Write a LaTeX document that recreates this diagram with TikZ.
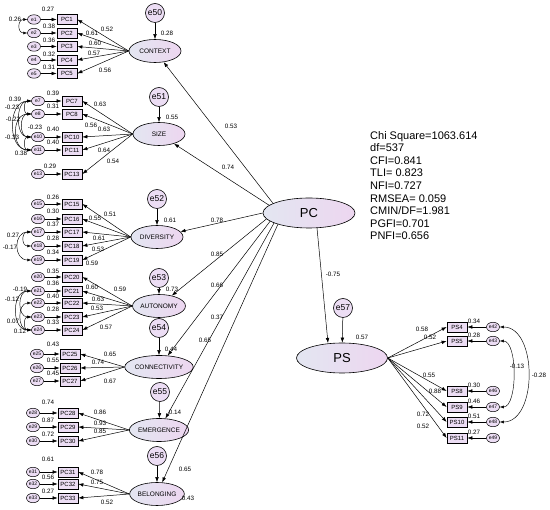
\documentclass[tikz,border=0pt]{standalone}
\usepackage{fontspec}
\setmainfont{Liberation Sans}
\usetikzlibrary{arrows.meta,shapes.geometric}
\definecolor{latL}{HTML}{E3E6F1}
\definecolor{latR}{HTML}{EDD6F0}
\definecolor{boxC}{HTML}{ECDDF4}
\definecolor{errC}{HTML}{ECDDF4}
\tikzset{
 lat/.style={ellipse, draw, line width=0.6pt, left color=latL, right color=latR, minimum width=52pt, minimum height=23pt, inner sep=0pt, font=\fontsize{6.5}{7}\selectfont},
 big/.style={lat, minimum width=92pt, minimum height=30pt, font=\fontsize{13}{14}\selectfont},
 obs/.style={rectangle, draw, line width=0.7pt, fill=boxC, minimum width=20pt, minimum height=10pt, inner sep=0pt, font=\fontsize{6}{6}\selectfont},
 err/.style={ellipse, draw, line width=0.5pt, fill=errC, minimum width=13pt, minimum height=9.5pt, inner sep=0pt, font=\fontsize{5}{5}\selectfont},
 errb/.style={circle, draw, line width=0.6pt, fill=errC, minimum size=19pt, inner sep=0pt, font=\fontsize{8.5}{9}\selectfont},
 lbl/.style={inner sep=0pt, font=\fontsize{6.3}{7}\selectfont},
 arr/.style={-{Latex[length=5pt,width=3.6pt]}, line width=0.5pt},
 cov/.style={{Latex[length=4pt,width=3pt]}-{Latex[length=4pt,width=3pt]}, line width=0.45pt},
}
\begin{document}
\begin{tikzpicture}[x=1pt,y=-1pt]
\useasboundingbox (0,0) rectangle (550,510);
\fill[white] (0,0) rectangle (550,510);
% latent variables
\node[big] (PC) at (309,213) {PC};
\node[big, minimum width=91pt, minimum height=30pt] (PS) at (342,358) {PS};
\node[lat] (CONTEXT) at (155,51) {CONTEXT};
\node[lat] (SIZE) at (159,134) {SIZE};
\node[lat] (DIVERSITY) at (157,237) {DIVERSITY};
\node[lat] (AUTONOMY) at (159,306) {AUTONOMY};
\node[lat] (CONNECTIVITY) at (159,367) {CONNECTIVITY};
\node[lat] (EMERGENCE) at (159,430) {EMERGENCE};
\node[lat] (BELONGING) at (157,494) {BELONGING};
% disturbances
\node[errb] (e50) at (155,13) {e50};
\node[errb] (e51) at (159,97) {e51};
\node[errb] (e52) at (157,199) {e52};
\node[errb] (e53) at (159,278) {e53};
\node[errb] (e54) at (159,328) {e54};
\node[errb] (e55) at (160,392) {e55};
\node[errb] (e56) at (157,456) {e56};
\node[errb] (e57) at (343,308) {e57};
\foreach \a/\b in {e50/CONTEXT,e51/SIZE,e52/DIVERSITY,e53/AUTONOMY,e54/CONNECTIVITY,e55/EMERGENCE,e56/BELONGING,e57/PS}
  \draw[arr] (\a) -- (\b);
% structural paths
\foreach \ang/\b in {165/CONTEXT,169.5/SIZE,180/DIVERSITY,188/AUTONOMY,192/CONNECTIVITY,196/EMERGENCE,200/BELONGING}
  \draw[arr] (PC.\ang) -- (\b);
\coordinate (pcs) at (317,228);
\coordinate (pst) at (328,343);
\draw[arr] (pcs) -- (pst);
% indicators
\foreach \n/\y in {1/19.5,2/33,3/46.5,4/60,5/73.5}{
  \node[obs] (PC\n) at (67,\y) {PC\n};
  \node[err] (e\n) at (34,\y) {e\n};
  \draw[arr] (e\n.east) -- (PC\n.west);
  \draw[arr] (CONTEXT.west) -- (PC\n.east);}
\foreach \n/\y in {7/101,8/114,10/137,11/150,13/174}{
  \node[obs] (PC\n) at (72,\y) {PC\n};
  \node[err] (e\n) at (38,\y) {e\n};
  \draw[arr] (e\n.east) -- (PC\n.west);
  \draw[arr] (SIZE.west) -- (PC\n.east);}
\foreach \n/\y in {15/204,16/219,17/232,18/246,19/260}{
  \node[obs] (PC\n) at (72,\y) {PC\n};
  \node[err] (e\n) at (38,\y) {e\n};
  \draw[arr] (e\n.east) -- (PC\n.west);
  \draw[arr] (DIVERSITY.west) -- (PC\n.east);}
\foreach \n/\y in {20/277,21/291,22/303,23/317,24/330}{
  \node[obs] (PC\n) at (72,\y) {PC\n};
  \node[err] (e\n) at (38,\y) {e\n};
  \draw[arr] (e\n.east) -- (PC\n.west);
  \draw[arr] (AUTONOMY.west) -- (PC\n.east);}
\foreach \n/\y in {25/354,26/368,27/381}{
  \node[obs] (PC\n) at (70,\y) {PC\n};
  \node[err] (e\n) at (37,\y) {e\n};
  \draw[arr] (e\n.east) -- (PC\n.west);
  \draw[arr] (CONNECTIVITY.west) -- (PC\n.east);}
\foreach \n/\y in {28/413,29/427,30/441}{
  \node[obs] (PC\n) at (68,\y) {PC\n};
  \node[err] (e\n) at (33,\y) {e\n};
  \draw[arr] (e\n.east) -- (PC\n.west);
  \draw[arr] (EMERGENCE.west) -- (PC\n.east);}
\foreach \n/\y in {31/472,32/484,33/498}{
  \node[obs] (PC\n) at (68,\y) {PC\n};
  \node[err] (e\n) at (33,\y) {e\n};
  \draw[arr] (e\n.east) -- (PC\n.west);
  \draw[arr] (BELONGING.west) -- (PC\n.east);}
\foreach \n/\e/\y in {4/42/327,5/43/341,8/46/391,9/47/407,10/48/422,11/49/438}{
  \node[obs] (PS\n) at (457,\y) {PS\n};
  \node[err] (e\e) at (493,\y) {e\e};
  \draw[arr] (e\e.west) -- (PS\n.east);
  \draw[arr] (PS.east) -- (PS\n.west);}
% covariances
\draw[cov] (e1.west) .. controls +(-10,0) and +(-10,0) .. (e2.west);
\draw[cov] (e7.west) .. controls +(-8,0) and +(-8,0) .. (e8.west);
\draw[cov] (e7.west) .. controls +(-16,0) and +(-16,0) .. (e10.west);
\draw[cov] (e7.west) .. controls +(-24,0) and +(-24,0) .. (e11.west);
\draw[cov] (e8.west) .. controls +(-12,0) and +(-12,0) .. (e10.west);
\draw[cov] (e8.west) .. controls +(-20,0) and +(-20,0) .. (e11.west);
\draw[cov] (e10.west) .. controls +(-8,0) and +(-8,0) .. (e11.west);
\draw[cov] (e17.west) .. controls +(-10,0) and +(-10,0) .. (e18.west);
\draw[cov] (e17.west) .. controls +(-18,0) and +(-18,0) .. (e19.west);
\draw[cov] (e21.west) .. controls +(-14,0) and +(-14,0) .. (e23.west);
\draw[cov] (e21.west) .. controls +(-20,0) and +(-20,0) .. (e24.west);
\draw[cov] (e22.west) .. controls +(-14,0) and +(-14,0) .. (e24.west);
\draw[cov] (e23.west) .. controls +(-8,0) and +(-8,0) .. (e24.west);
\draw[cov] (e42.east) .. controls +(38,0) and +(38,0) .. (e48.east);
\draw[cov] (e43.east) .. controls +(18,0) and +(18,0) .. (e47.east);
% labels
\foreach \x/\y/\t [count=\i] in {48/9/0.27,15/19/0.26,49/26/0.38,49/40/0.36,49/54/0.32,49/67/0.31,107/29/0.52,92/33/0.61,95/43/0.60,94/53/0.57,105/70/0.56,167/33/0.28,
 53/93/0.39,53/106/0.31,53/129/0.40,53/142/0.40,50/166/0.29,15/99/0.39,12/107/-0.23,13/119/-0.22,35/127/-0.23,12/137/-0.33,21/153/0.38,100/104/0.63,91/125/0.56,104/129/0.63,104/150/0.64,113/161/0.54,172/117/0.55,228/167/0.74,231/126/0.53,
 53/197/0.26,53/211/0.30,53/224/0.37,53/238/0.28,53/252/0.34,13/235/0.27,10/247/-0.17,110/214/0.51,95/218/0.55,99/238/0.61,98/249/0.53,92/263/0.59,170/220/0.61,217/220/0.78}
  \node[lbl] (la\i) at (\x,\y) {\t};
\foreach \x/\y/\t [count=\i] in {53/271/0.35,53/283/0.36,53/296/0.40,53/309/0.28,53/322/0.33,20/289/-0.19,12/299/-0.12,13/321/0.07,20/331/0.12,120/289/0.59,92/287/0.60,98/299/0.63,97/308/0.53,106/327/0.57,172/289/0.73,217/254/0.85,217/285/0.66,217/317/0.37,205/340/0.65,
 53/344/0.43,53/360/0.55,53/373/0.45,110/354/0.65,98/362/0.74,110/381/0.67,171/349/0.44,
 48/402/0.74,48/420/0.87,48/434/0.72,100/412/0.86,100/423/0.93,100/431/0.85,175/412/0.14,
 48/459/0.61,48/477/0.56,48/491/0.27,97/472/0.78,97/482/0.75,107/502/0.52,185/469/0.65,188/498/0.43}
  \node[lbl] (lb\i) at (\x,\y) {\t};
\foreach \x/\y/\t [count=\i] in {333/274/-0.75,362/337/0.57,474/321/0.34,474/335/0.28,474/385/0.30,474/401/0.46,474/416/0.51,474/432/0.27,422/329/0.58,430/337/0.52,429/375/0.55,435/391/0.88,423/414/0.72,423/426/0.52,517/366/-0.13,539/375/-0.28}
  \node[lbl] (lc\i) at (\x,\y) {\t};
% fit indices
\node[inner sep=0pt, anchor=north west, align=left, font=\fontsize{11}{12.6}\selectfont] (fit) at (370,131)
 {Chi Square=1063.614\\df=537\\CFI=0.841\\TLI= 0.823\\NFI=0.727\\RMSEA= 0.059\\CMIN/DF=1.981\\PGFI=0.701\\PNFI=0.656};
\end{tikzpicture}
\end{document}
